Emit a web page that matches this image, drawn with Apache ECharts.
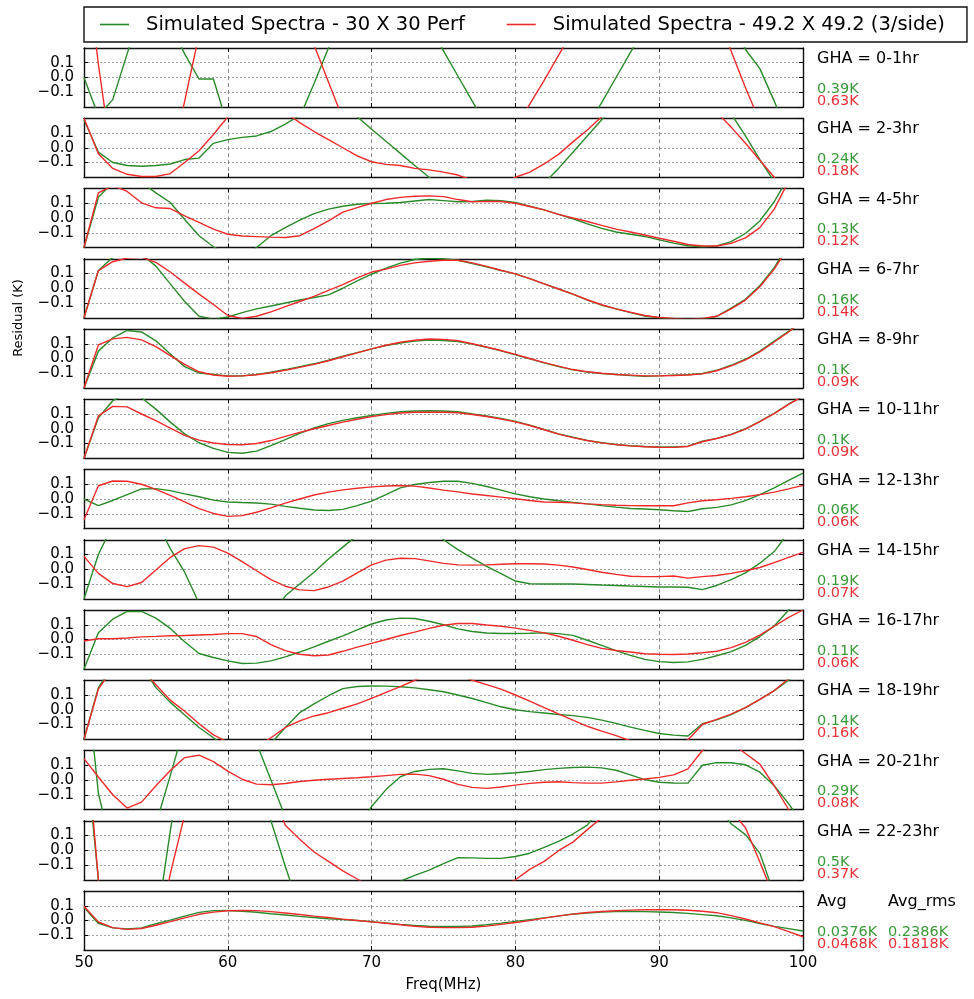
<!DOCTYPE html>
<html>
<head>
<meta charset="utf-8">
<script src="https://cdn.jsdelivr.net/npm/echarts@6/dist/echarts.min.js"></script>
<style>
  html, body { margin: 0; padding: 0; background: #ffffff; }
  #chart { width: 974px; height: 999px; }
</style>
</head>
<body>
<div id="chart"></div>
<script>
// Frequency samples (MHz)
const freq = [50,51,52,53,54,55,56,57,58,59,60,61,62,63,64,65,66,67,68,69,70,71,72,73,74,75,76,77,78,79,80,81,82,83,84,85,86,87,88,89,90,91,92,93,94,95,96,97,98,99,100];

// Residuals (K), 30 x 30 perforated ground plane
const green_0_1 = [0.00,-0.26,-0.15,0.16,0.47,0.60,0.36,0.16,-0.01,-0.01,-0.33,-0.55,-0.65,-0.62,-0.50,-0.27,-0.04,0.20,0.42,0.55,0.62,0.63,0.60,0.52,0.36,0.18,0.01,-0.16,-0.33,-0.46,-0.55,-0.60,-0.60,-0.55,-0.46,-0.33,-0.17,0.00,0.17,0.33,0.47,0.58,0.64,0.63,0.55,0.38,0.19,0.06,-0.16,-0.40,-0.65];
const green_2_3 = [0.19,-0.03,-0.10,-0.12,-0.125,-0.12,-0.11,-0.08,-0.07,0.03,0.055,0.07,0.08,0.11,0.16,0.22,0.27,0.30,0.29,0.21,0.126,0.044,-0.038,-0.12,-0.20,-0.28,-0.34,-0.38,-0.40,-0.40,-0.38,-0.33,-0.24,-0.14,-0.03,0.08,0.19,0.29,0.36,0.40,0.42,0.42,0.40,0.36,0.30,0.23,0.08,-0.08,-0.23,-0.40,-0.58];
const green_4_5 = [-0.20,0.14,0.24,0.27,0.24,0.17,0.105,-0.01,-0.12,-0.195,-0.25,-0.26,-0.20,-0.12,-0.065,-0.015,0.03,0.06,0.08,0.093,0.098,0.10,0.105,0.115,0.125,0.118,0.11,0.112,0.12,0.117,0.105,0.08,0.055,0.025,-0.005,-0.04,-0.07,-0.095,-0.11,-0.125,-0.148,-0.17,-0.188,-0.195,-0.19,-0.16,-0.105,-0.02,0.11,0.28,0.45];
const green_6_7 = [-0.20,0.12,0.21,0.25,0.23,0.15,0.03,-0.09,-0.19,-0.21,-0.195,-0.165,-0.14,-0.12,-0.10,-0.08,-0.063,-0.045,0.0,0.05,0.095,0.137,0.17,0.195,0.205,0.20,0.19,0.168,0.145,0.12,0.097,0.065,0.03,-0.005,-0.04,-0.08,-0.115,-0.14,-0.165,-0.188,-0.20,-0.21,-0.215,-0.21,-0.19,-0.135,-0.075,0.018,0.14,0.30,0.48];
const green_8_9 = [-0.20,0.05,0.14,0.19,0.18,0.12,0.03,-0.055,-0.098,-0.108,-0.118,-0.118,-0.108,-0.093,-0.075,-0.055,-0.036,-0.012,0.015,0.04,0.065,0.088,0.105,0.118,0.125,0.122,0.115,0.098,0.075,0.052,0.025,-0.003,-0.03,-0.055,-0.077,-0.092,-0.102,-0.108,-0.115,-0.12,-0.118,-0.113,-0.11,-0.102,-0.08,-0.046,-0.005,0.05,0.118,0.184,0.26];
const green_10_11 = [-0.20,0.075,0.19,0.24,0.21,0.133,0.045,-0.035,-0.095,-0.133,-0.16,-0.166,-0.152,-0.115,-0.074,-0.032,0.005,0.035,0.057,0.075,0.09,0.104,0.115,0.12,0.122,0.12,0.115,0.10,0.086,0.07,0.05,0.025,-0.005,-0.035,-0.058,-0.08,-0.095,-0.107,-0.115,-0.12,-0.124,-0.124,-0.118,-0.085,-0.065,-0.038,0.0,0.05,0.105,0.168,0.22];
const green_12_13 = [0.0,-0.045,-0.01,0.03,0.068,0.07,0.057,0.035,0.015,-0.008,-0.02,-0.024,-0.027,-0.035,-0.05,-0.063,-0.075,-0.078,-0.07,-0.045,-0.014,0.03,0.075,0.098,0.112,0.12,0.12,0.106,0.085,0.06,0.035,0.015,0.0,-0.012,-0.023,-0.033,-0.045,-0.055,-0.064,-0.068,-0.073,-0.08,-0.085,-0.066,-0.057,-0.04,-0.011,0.03,0.075,0.126,0.175];
const green_14_15 = [-0.20,0.10,0.30,0.42,0.45,0.33,0.14,-0.02,-0.23,-0.40,-0.50,-0.55,-0.50,-0.33,-0.18,-0.10,-0.02,0.07,0.15,0.23,0.33,0.38,0.41,0.40,0.33,0.20,0.133,0.075,0.02,-0.03,-0.08,-0.098,-0.10,-0.10,-0.10,-0.103,-0.107,-0.11,-0.114,-0.117,-0.12,-0.12,-0.122,-0.138,-0.11,-0.07,-0.025,0.041,0.12,0.25,0.38];
const green_16_17 = [-0.20,0.045,0.138,0.19,0.19,0.145,0.075,-0.015,-0.095,-0.122,-0.145,-0.163,-0.16,-0.145,-0.118,-0.085,-0.05,-0.012,0.025,0.065,0.105,0.132,0.145,0.142,0.124,0.10,0.072,0.054,0.044,0.041,0.041,0.042,0.045,0.04,0.028,-0.005,-0.04,-0.075,-0.108,-0.135,-0.15,-0.156,-0.152,-0.135,-0.11,-0.082,-0.04,0.02,0.092,0.20,0.30];
const green_18_19 = [-0.20,0.15,0.30,0.35,0.30,0.15,0.05,-0.035,-0.12,-0.19,-0.26,-0.30,-0.30,-0.23,-0.12,-0.02,0.04,0.095,0.143,0.158,0.161,0.16,0.156,0.148,0.136,0.122,0.10,0.076,0.048,0.02,0.0,-0.013,-0.022,-0.032,-0.04,-0.052,-0.07,-0.092,-0.118,-0.14,-0.161,-0.172,-0.178,-0.095,-0.069,-0.033,0.015,0.07,0.13,0.20,0.28];
const green_20_21 = [0.85,-0.09,-0.50,-0.70,-0.60,-0.30,0.03,0.37,0.65,0.75,0.75,0.60,0.25,0.0,-0.25,-0.45,-0.55,-0.55,-0.45,-0.33,-0.18,-0.065,0.022,0.058,0.072,0.076,0.062,0.045,0.038,0.042,0.049,0.058,0.07,0.079,0.085,0.087,0.082,0.066,0.035,0.003,-0.015,-0.02,-0.021,0.10,0.118,0.117,0.103,0.053,-0.039,-0.16,-0.30];
const green_22_23 = [0.80,-0.20,-1.0,-1.3,-1.1,-0.53,0.13,0.73,1.0,1.1,1.1,0.9,0.6,0.2,-0.11,-0.40,-0.60,-0.70,-0.70,-0.60,-0.45,-0.33,-0.21,-0.17,-0.135,-0.09,-0.05,-0.052,-0.055,-0.055,-0.042,-0.02,0.02,0.06,0.11,0.17,0.30,0.40,0.48,0.52,0.55,0.55,0.50,0.42,0.30,0.18,0.106,-0.021,-0.30,-0.55,-0.85];
const green_avg = [0.09,-0.02,-0.05,-0.058,-0.05,-0.022,0.003,0.03,0.055,0.067,0.068,0.063,0.056,0.046,0.037,0.028,0.02,0.012,0.007,0.0,-0.008,-0.017,-0.026,-0.034,-0.039,-0.041,-0.04,-0.037,-0.029,-0.018,-0.006,0.006,0.018,0.03,0.044,0.051,0.057,0.061,0.061,0.06,0.058,0.054,0.048,0.04,0.032,0.018,0.001,-0.02,-0.04,-0.055,-0.071];

// Residuals (K), 49.2 x 49.2 ground plane (3/side)
const red_0_1 = [0.90,0.09,-0.60,-0.85,-0.95,-0.90,-0.60,-0.16,0.29,0.60,0.80,0.90,0.90,0.80,0.65,0.45,0.22,-0.03,-0.28,-0.48,-0.62,-0.72,-0.77,-0.77,-0.74,-0.70,-0.64,-0.58,-0.52,-0.45,-0.35,-0.18,-0.02,0.15,0.32,0.47,0.58,0.66,0.72,0.75,0.75,0.72,0.68,0.60,0.42,0.18,-0.07,-0.30,-0.55,-0.80,-1.05];
const red_2_3 = [0.20,-0.04,-0.14,-0.18,-0.195,-0.195,-0.175,-0.10,-0.02,0.09,0.21,0.30,0.35,0.32,0.24,0.17,0.11,0.055,0.0,-0.055,-0.095,-0.113,-0.12,-0.14,-0.15,-0.165,-0.185,-0.22,-0.27,-0.25,-0.20,-0.165,-0.11,-0.045,0.04,0.12,0.21,0.29,0.34,0.37,0.38,0.37,0.35,0.30,0.24,0.14,0.03,-0.085,-0.20,-0.32,-0.44];
const red_4_5 = [-0.20,0.17,0.22,0.18,0.103,0.069,0.064,0.015,-0.03,-0.075,-0.11,-0.122,-0.126,-0.13,-0.132,-0.12,-0.072,-0.02,0.04,0.07,0.10,0.125,0.14,0.147,0.15,0.145,0.125,0.11,0.113,0.112,0.10,0.078,0.055,0.025,0.0,-0.024,-0.05,-0.075,-0.095,-0.115,-0.137,-0.158,-0.18,-0.19,-0.19,-0.172,-0.135,-0.065,0.06,0.25,0.45];
const red_6_7 = [-0.20,0.12,0.18,0.205,0.21,0.175,0.11,0.035,-0.04,-0.11,-0.185,-0.205,-0.19,-0.16,-0.125,-0.09,-0.055,-0.015,0.025,0.07,0.11,0.13,0.155,0.172,0.183,0.19,0.19,0.172,0.148,0.122,0.097,0.065,0.03,-0.005,-0.04,-0.078,-0.112,-0.14,-0.163,-0.185,-0.198,-0.205,-0.21,-0.205,-0.19,-0.14,-0.08,0.01,0.13,0.28,0.45];
const red_8_9 = [-0.20,0.092,0.133,0.143,0.126,0.08,0.02,-0.04,-0.09,-0.112,-0.12,-0.118,-0.11,-0.097,-0.08,-0.06,-0.04,-0.015,0.012,0.038,0.065,0.09,0.11,0.124,0.132,0.13,0.12,0.10,0.078,0.054,0.028,0.0,-0.028,-0.052,-0.075,-0.09,-0.10,-0.108,-0.113,-0.118,-0.118,-0.115,-0.112,-0.104,-0.083,-0.05,-0.01,0.045,0.112,0.18,0.255];
const red_10_11 = [-0.20,0.087,0.152,0.148,0.10,0.055,0.005,-0.045,-0.077,-0.097,-0.107,-0.108,-0.10,-0.08,-0.052,-0.025,0.0,0.022,0.045,0.064,0.082,0.096,0.107,0.112,0.113,0.112,0.108,0.097,0.083,0.066,0.047,0.022,-0.007,-0.036,-0.06,-0.08,-0.096,-0.108,-0.116,-0.122,-0.125,-0.126,-0.12,-0.088,-0.066,-0.04,-0.003,0.048,0.103,0.165,0.22];
const red_12_13 = [-0.14,0.09,0.122,0.12,0.10,0.065,0.025,-0.02,-0.065,-0.098,-0.118,-0.113,-0.09,-0.06,-0.028,0.0,0.027,0.047,0.062,0.073,0.082,0.088,0.092,0.087,0.075,0.06,0.048,0.034,0.024,0.013,0.002,-0.01,-0.02,-0.022,-0.026,-0.033,-0.038,-0.042,-0.045,-0.046,-0.046,-0.046,-0.026,-0.012,-0.005,0.004,0.015,0.03,0.047,0.069,0.092];
const red_14_15 = [0.087,-0.028,-0.097,-0.118,-0.09,-0.005,0.08,0.14,0.16,0.15,0.11,0.052,-0.01,-0.07,-0.115,-0.14,-0.145,-0.12,-0.08,-0.025,0.03,0.062,0.075,0.072,0.057,0.04,0.03,0.028,0.03,0.034,0.037,0.037,0.036,0.028,0.015,-0.002,-0.02,-0.035,-0.047,-0.05,-0.05,-0.046,-0.06,-0.05,-0.042,-0.028,-0.01,0.012,0.045,0.08,0.115];
const red_16_17 = [-0.01,0.005,0.005,0.01,0.018,0.021,0.025,0.027,0.031,0.034,0.04,0.04,0.02,-0.035,-0.075,-0.10,-0.11,-0.105,-0.08,-0.052,-0.026,0.0,0.027,0.05,0.075,0.097,0.108,0.108,0.098,0.09,0.077,0.062,0.045,0.022,-0.005,-0.035,-0.06,-0.075,-0.085,-0.097,-0.10,-0.102,-0.098,-0.09,-0.08,-0.055,-0.02,0.03,0.09,0.15,0.20];
const red_18_19 = [-0.20,0.14,0.28,0.33,0.28,0.17,0.065,-0.01,-0.095,-0.17,-0.22,-0.26,-0.25,-0.19,-0.12,-0.075,-0.042,-0.02,0.01,0.04,0.077,0.118,0.157,0.20,0.24,0.25,0.24,0.20,0.17,0.14,0.10,0.058,0.015,-0.028,-0.07,-0.112,-0.145,-0.175,-0.21,-0.24,-0.25,-0.24,-0.205,-0.10,-0.065,-0.03,0.015,0.07,0.13,0.21,0.29];
const red_20_21 = [0.145,0.02,-0.10,-0.19,-0.15,-0.039,0.064,0.152,0.168,0.125,0.06,0.005,-0.028,-0.032,-0.024,-0.01,-0.002,0.005,0.01,0.015,0.022,0.03,0.038,0.04,0.03,0.005,-0.03,-0.05,-0.057,-0.047,-0.035,-0.023,-0.015,-0.012,-0.018,-0.021,-0.021,-0.013,-0.002,0.007,0.018,0.035,0.075,0.20,0.26,0.25,0.18,0.108,-0.039,-0.20,-0.35];
const red_22_23 = [0.95,-0.20,-0.90,-1.2,-1.1,-0.65,-0.16,0.24,0.60,0.80,0.90,0.85,0.70,0.40,0.17,0.075,-0.012,-0.075,-0.14,-0.195,-0.25,-0.30,-0.34,-0.36,-0.37,-0.37,-0.36,-0.34,-0.30,-0.25,-0.20,-0.13,-0.075,-0.003,0.055,0.14,0.22,0.32,0.40,0.45,0.48,0.48,0.46,0.41,0.35,0.27,0.153,-0.08,-0.32,-0.55,-0.80];
const red_avg = [0.097,-0.01,-0.048,-0.06,-0.054,-0.032,-0.008,0.018,0.042,0.057,0.066,0.068,0.067,0.06,0.051,0.041,0.03,0.02,0.009,0.0,-0.009,-0.019,-0.029,-0.039,-0.046,-0.048,-0.048,-0.046,-0.038,-0.026,-0.014,-0.001,0.016,0.031,0.043,0.054,0.061,0.066,0.07,0.073,0.074,0.073,0.069,0.063,0.053,0.033,0.01,-0.016,-0.042,-0.075,-0.11];

// Panel captions and rms residuals
const panelLabels = ['GHA = 0-1hr','GHA = 2-3hr','GHA = 4-5hr','GHA = 6-7hr','GHA = 8-9hr','GHA = 10-11hr','GHA = 12-13hr','GHA = 14-15hr','GHA = 16-17hr','GHA = 18-19hr','GHA = 20-21hr','GHA = 22-23hr','Avg'];
const rmsGreen = ['0.39K','0.24K','0.13K','0.16K','0.1K','0.1K','0.06K','0.19K','0.11K','0.14K','0.29K','0.5K','0.0376K'];
const rmsRed = ['0.63K','0.18K','0.12K','0.14K','0.09K','0.09K','0.06K','0.07K','0.06K','0.16K','0.08K','0.37K','0.0468K'];
const avgRmsGreen = '0.2386K';
const avgRmsRed = '0.1818K';

const greenSets = [green_0_1,green_2_3,green_4_5,green_6_7,green_8_9,green_10_11,green_12_13,green_14_15,green_16_17,green_18_19,green_20_21,green_22_23,green_avg];
const redSets = [red_0_1,red_2_3,red_4_5,red_6_7,red_8_9,red_10_11,red_12_13,red_14_15,red_16_17,red_18_19,red_20_21,red_22_23,red_avg];

const NAME_G = 'Simulated Spectra - 30 X 30 Perf';
const NAME_R = 'Simulated Spectra - 49.2 X 49.2 (3/side)';
const COL_G = '#2a8a2a';
const COL_R = '#ee2b2b';
const TXT_G = '#3a9a3a';
const TXT_R = '#e8333a';
const FONT = 'DejaVu Sans';

const PLOT_LEFT = 84, PLOT_W = 719, TOP0 = 48, PITCH = 70.25, PLOT_H = 59;
const nPanels = greenSets.length;

const grids = [], xAxes = [], yAxes = [], series = [], graphics = [];
const tickStyle = { inside: true, length: 4, lineStyle: { color: '#000', width: 1 } };
const frameLine = { show: true, onZero: false, lineStyle: { color: '#111', width: 1.4 } };

function yFmt(v) {
  if (Math.abs(v) > 0.15) return '';
  const s = Math.abs(v).toFixed(1);
  return v < -1e-9 ? '\u2212' + s : s;
}

function caption(text, fill, size, x, cy) {
  return {
    type: 'text', x: 0, y: 0,
    style: { text: text, fill: fill, font: size + 'px "DejaVu Sans"', x: x, y: cy, verticalAlign: 'middle' }
  };
}

for (let i = 0; i < nPanels; i++) {
  const top = TOP0 + PITCH * i;
  grids.push({ left: PLOT_LEFT, top: top, width: PLOT_W, height: PLOT_H, containLabel: false });
  const last = i === nPanels - 1;
  // bottom x axis
  xAxes.push({
    gridIndex: i, type: 'value', min: 50, max: 100, interval: 10, position: 'bottom',
    axisLine: frameLine, axisTick: tickStyle,
    axisLabel: { show: last, margin: 6, color: '#000', fontFamily: FONT, fontSize: 15 },
    splitLine: { show: true, lineStyle: { color: '#8c8c8c', type: [4, 3], width: 1 } }
  });
  // top x axis (frame + ticks)
  xAxes.push({
    gridIndex: i, type: 'value', min: 50, max: 100, interval: 10, position: 'top',
    axisLine: frameLine, axisTick: tickStyle, axisLabel: { show: false }, splitLine: { show: false }
  });
  // left y axis
  yAxes.push({
    gridIndex: i, type: 'value', min: -0.2, max: 0.2, interval: 0.1, position: 'left',
    axisLine: frameLine, axisTick: tickStyle,
    axisLabel: { show: true, formatter: yFmt, margin: 10, color: '#000', fontFamily: FONT, fontSize: 15, lineHeight: 15, showMinLabel: false, showMaxLabel: false },
    splitLine: { show: true, lineStyle: { color: '#a0a0a0', type: [2, 2], width: 1 } }
  });
  // right y axis (frame + ticks)
  yAxes.push({
    gridIndex: i, type: 'value', min: -0.2, max: 0.2, interval: 0.1, position: 'right',
    axisLine: frameLine, axisTick: tickStyle, axisLabel: { show: false }, splitLine: { show: false }
  });

  const g = greenSets[i], r = redSets[i];
  series.push({
    name: NAME_G, type: 'line', xAxisIndex: 2 * i, yAxisIndex: 2 * i,
    data: freq.map((f, k) => [f, g[k]]), symbol: 'none', clip: true, z: 3,
    lineStyle: { color: COL_G, width: 1.4 }, itemStyle: { color: COL_G }
  });
  series.push({
    name: NAME_R, type: 'line', xAxisIndex: 2 * i, yAxisIndex: 2 * i,
    data: freq.map((f, k) => [f, r[k]]), symbol: 'none', clip: true, z: 4,
    lineStyle: { color: COL_R, width: 1.4 }, itemStyle: { color: COL_R }
  });

  // captions to the right of each panel
  const tx = PLOT_LEFT + PLOT_W + 14;
  graphics.push(caption(panelLabels[i], '#000', 16, tx, top + 11));
  graphics.push(caption(rmsGreen[i], TXT_G, 14.5, tx, top + 41));
  graphics.push(caption(rmsRed[i], TXT_R, 14.5, tx, top + 53));
  if (last) {
    const ax = tx + 71;
    graphics.push(caption('Avg_rms', '#000', 16, ax, top + 11));
    graphics.push(caption(avgRmsGreen, TXT_G, 14.5, ax, top + 41));
    graphics.push(caption(avgRmsRed, TXT_R, 14.5, ax, top + 53));
  }
}

// axis titles
graphics.push({ type: 'text', x: 0, y: 0, style: { text: 'Freq(MHz)', x: PLOT_LEFT + PLOT_W / 2, y: 985, fill: '#000', font: '15px "DejaVu Sans"', align: 'center', verticalAlign: 'middle' } });
graphics.push({ type: 'text', x: 19, y: 318, rotation: Math.PI / 2, style: { text: 'Residual (K)', x: 0, y: 0, fill: '#000', font: '13px "DejaVu Sans"', align: 'center', verticalAlign: 'middle' } });

const chart = echarts.init(document.getElementById('chart'), null, { renderer: 'canvas' });
chart.setOption({
  animation: false,
  backgroundColor: '#ffffff',
  legend: {
    left: 84, top: 7,
    data: [NAME_G, NAME_R],
    icon: 'rect',
    itemWidth: 29, itemHeight: 1.6, itemGap: 42,
    padding: [6, 22, 6, 16],
    borderColor: '#111', borderWidth: 1.4, borderRadius: 0,
    textStyle: { color: '#000', fontFamily: FONT, fontSize: 19.5, lineHeight: 23, padding: [0, 0, 0, 12] }
  },
  grid: grids,
  xAxis: xAxes,
  yAxis: yAxes,
  series: series,
  graphic: graphics
});
</script>
</body>
</html>
